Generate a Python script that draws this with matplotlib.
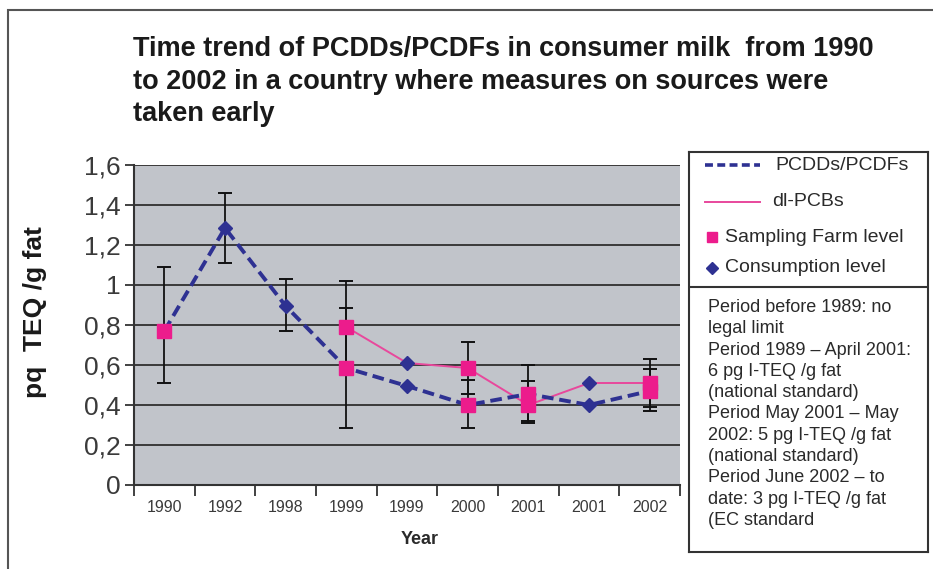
import numpy as np
import matplotlib
matplotlib.use('Agg')
import matplotlib.pyplot as plt
from matplotlib.patches import Rectangle
from matplotlib.ticker import FuncFormatter

plt.rcParams['font.family'] = ['Liberation Sans', 'DejaVu Sans']

nan = np.nan

# sampling points (two sampling rounds in 1999 and 2001)
years = ['1990', '1992', '1998', '1999', '1999', '2000', '2001', '2001', '2002']

# PCDDs/PCDFs, pg TEQ/g fat ; 's' = farm level sample, 'D' = consumption level
pcdd = [0.77, 1.285, 0.895, 0.585, 0.495, 0.40, 0.455, 0.40, 0.47]
pcdd_kind = ['s', 'D', 'D', 's', 'D', 's', 's', 'D', 's']
pcdd_err_lo = [0.26, 0.175, 0.125, 0.30, nan, 0.115, 0.145, nan, 0.10]
pcdd_err_hi = [0.32, 0.175, 0.135, 0.30, nan, 0.125, 0.145, nan, 0.11]

# dl-PCBs (only measured from 1999)
pcb = [nan, nan, nan, 0.79, 0.61, 0.585, 0.40, 0.51, 0.51]
pcb_kind = ['', '', '', 's', 'D', 's', 's', 'D', 's']
pcb_err_lo = [nan, nan, nan, 0.23, nan, 0.13, 0.08, nan, 0.12]
pcb_err_hi = [nan, nan, nan, 0.23, nan, 0.13, 0.12, nan, 0.12]

limits_txt = ("Period before 1989: no\nlegal limit\nPeriod 1989 \u2013 April 2001:\n"
              "6 pg I-TEQ /g fat\n(national standard)\nPeriod May 2001 \u2013 May\n"
              "2002: 5 pg I-TEQ /g fat\n(national standard)\nPeriod June 2002 \u2013 to\n"
              "date: 3 pg I-TEQ /g fat\n(EC standard")

pink = '#ec1c8c'
pink_line = '#e8489c'
navy = '#2e3192'
W, H = 933, 569

fig = plt.figure(figsize=(W / 100, H / 100), dpi=100)
fig.patch.set_facecolor('white')

# outer frame
fig.add_artist(Rectangle((8 / W, -0.1), 1.0, 1 - 10 / H + 0.1, transform=fig.transFigure,
                         fill=False, ec='#555555', lw=1.5))

ax = fig.add_axes([134 / W, 1 - 485 / H, 546 / W, 320 / H])
ax.set_facecolor('#c1c4ca')
x = np.arange(len(years))

ax.errorbar(x, pcdd, yerr=[pcdd_err_lo, pcdd_err_hi], fmt='none', ecolor='#111111',
            elinewidth=1.3, capsize=4.8, capthick=1.4, zorder=2)
ax.errorbar(x, pcb, yerr=[pcb_err_lo, pcb_err_hi], fmt='none', ecolor='#111111',
            elinewidth=1.3, capsize=4.8, capthick=1.4, zorder=2)

ax.plot(x, pcb, color=pink_line, lw=1.4, zorder=3)
ax.plot(x, pcdd, color=navy, lw=2.8, dashes=(3, 1.5), zorder=4)

for vals, kinds in [(pcdd, pcdd_kind), (pcb, pcb_kind)]:
    vals = np.array(vals)
    kinds = np.array(kinds)
    sq = kinds == 's'
    di = kinds == 'D'
    ax.plot(x[sq], vals[sq], 's', color=pink, ms=9.5, mec=pink, zorder=5)
    ax.plot(x[di], vals[di], 'D', color=navy, ms=7.5, mec=navy, zorder=5)

ax.set_ylim(0, 1.6)
ax.set_yticks(np.arange(0, 1.61, 0.2))
ax.yaxis.set_major_formatter(FuncFormatter(lambda v, p: ('%.1f' % v).rstrip('0').rstrip('.').replace('.', ',')))
ax.yaxis.grid(True, color='#3a3a3a', lw=1.4)
ax.set_axisbelow(True)
ax.tick_params(axis='y', direction='out', length=6.5, width=1.3, color='#333333',
               labelsize=19, labelcolor='#3a3a3a', pad=3)

ax.set_xlim(-0.5, len(years) - 0.5)
ax.set_xticks(np.arange(-0.5, len(years), 1))
ax.set_xticklabels([])
ax.set_xticks(x, minor=True)
ax.set_xticklabels(years, minor=True)
ax.tick_params(axis='x', which='major', direction='out', length=8, width=1.3, color='#333333')
ax.tick_params(axis='x', which='minor', length=0, labelsize=11.5, labelcolor='#3a3a3a', pad=11)

for s in ['top', 'right']:
    ax.spines[s].set_visible(False)
for s in ['left', 'bottom']:
    ax.spines[s].set_color('#333333')
    ax.spines[s].set_linewidth(1.5)

fig.text(133 / W, 1 - 36 / H,
         "Time trend of PCDDs/PCDFs in consumer milk  from 1990\n"
         "to 2002 in a country where measures on sources were\ntaken early",
         ha='left', va='top', fontsize=19.5, fontweight='bold', color='#1a1a1a', linespacing=1.33)
fig.text(35 / W, 1 - 312 / H, 'pq  TEQ /g fat', rotation=90, ha='center', va='center',
         fontsize=19, fontweight='bold', color='#1a1a1a')
fig.text(420 / W, 1 - 539 / H, 'Year', ha='center', va='center', fontsize=13,
         fontweight='bold', color='#2a2a2a')

# legend and limits box, drawn in pixel units
lg = fig.add_axes([689 / W, 1 - 552 / H, 239 / W, 400 / H])
lg.set_xlim(0, 239)
lg.set_ylim(400, 0)
lg.set_xticks([])
lg.set_yticks([])
for s in lg.spines.values():
    s.set_color('#333333')
    s.set_linewidth(1.5)
lg.axhline(135, color='#333333', lw=1.5)

lg.plot([16, 71], [13, 13], color=navy, lw=2.6, dashes=(2.2, 1.2))
lg.text(86, 13, 'PCDDs/PCDFs', va='center', fontsize=14, color='#2a2a2a')
lg.plot([16, 71], [50, 50], color=pink_line, lw=1.4)
lg.text(83, 50, 'dl-PCBs', va='center', fontsize=14, color='#2a2a2a')
lg.plot([23], [85], 's', color=pink, ms=7)
lg.text(36, 85, 'Sampling Farm level', va='center', fontsize=14, color='#2a2a2a')
lg.plot([23], [116], 'D', color=navy, ms=6)
lg.text(36, 116, 'Consumption level', va='center', fontsize=14, color='#2a2a2a')

lg.text(19, 147, limits_txt, ha='left', va='top', fontsize=13, color='#2a2a2a', linespacing=1.33)

fig.savefig('out.png', dpi=100)
